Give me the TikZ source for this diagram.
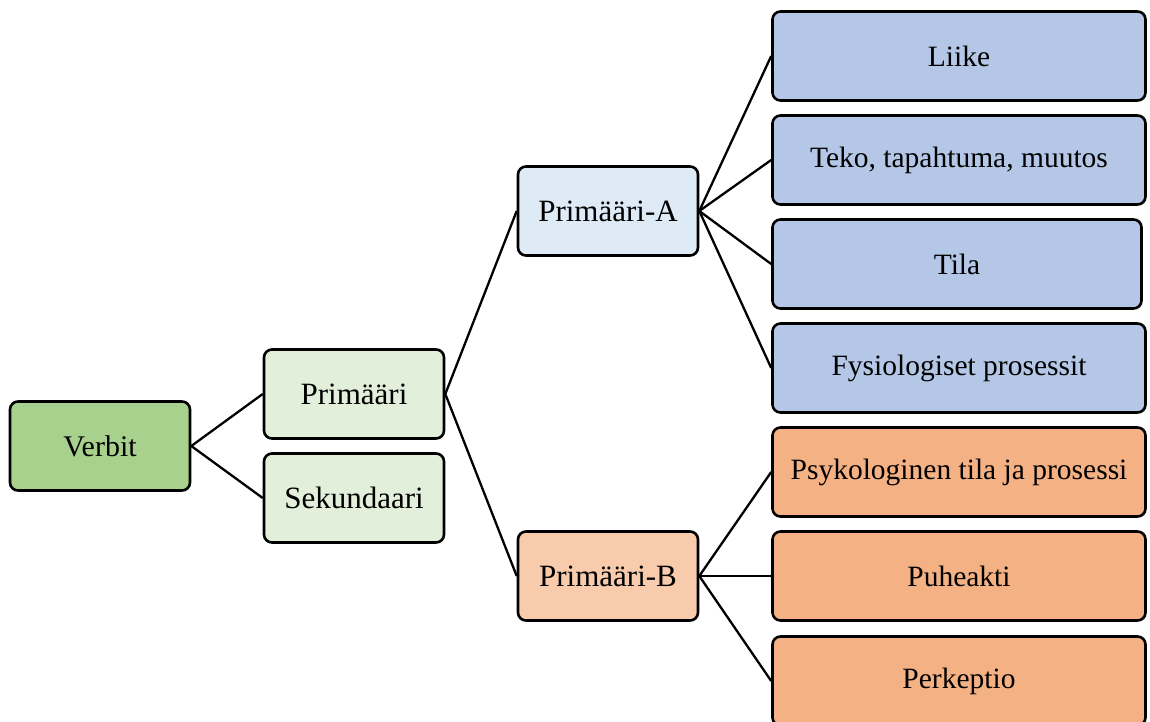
\documentclass[tikz,border=0pt]{standalone}
\usepackage{fontspec}
\setmainfont{Liberation Serif}
\usepackage{tikz}

\definecolor{verbgreen}{HTML}{A9D18E}
\definecolor{palegreen}{HTML}{E2EFDA}
\definecolor{paleblue}{HTML}{DEEBF7}
\definecolor{palepeach}{HTML}{F8CBAD}
\definecolor{midblue}{HTML}{B4C7E7}
\definecolor{midorange}{HTML}{F4B183}

\begin{document}
\begin{tikzpicture}[x=1pt, y=-1pt,
  box/.style={draw=black, line width=2.6pt, rounded corners=8pt, inner sep=0pt,
    minimum width=180pt, minimum height=89pt, font=\fontsize{31}{36}\selectfont},
  leaf/.style={box, minimum width=373pt, font=\fontsize{29.5}{34}\selectfont},
  link/.style={line width=2.3pt}]
\useasboundingbox (0,0) rectangle (1150,722);
\node[box, fill=verbgreen, font=\fontsize{30}{34}\selectfont] (verbit) at (100,446) {Verbit};
\node[box, fill=palegreen] (prim) at (354,394) {Primääri};
\node[box, fill=palegreen] (sek) at (354,498) {Sekundaari};
\node[box, fill=paleblue] (primA) at (608,211) {Primääri-A};
\node[box, fill=palepeach] (primB) at (608,576) {Primääri-B};
\node[leaf, fill=midblue] (liike) at (959,56) {Liike};
\node[leaf, fill=midblue] (teko) at (959,160) {Teko, tapahtuma, muutos};
\node[leaf, fill=midblue, minimum width=369pt] (tila) at (957,264) {Tila};
\node[leaf, fill=midblue] (fysio) at (959,368) {Fysiologiset prosessit};
\node[leaf, fill=midorange] (psyk) at (959,472) {Psykologinen tila ja prosessi};
\node[leaf, fill=midorange] (puhe) at (959,576) {Puheakti};
\node[leaf, fill=midorange] (perk) at (959,681) {Perkeptio};
\draw[link] (verbit.east) -- (prim.west);
\draw[link] (verbit.east) -- (sek.west);
\draw[link] (prim.east) -- (primA.west);
\draw[link] (prim.east) -- (primB.west);
\draw[link] (primA.east) -- (liike.west);
\draw[link] (primA.east) -- (teko.west);
\draw[link] (primA.east) -- (tila.west);
\draw[link] (primA.east) -- (fysio.west);
\draw[link] (primB.east) -- (psyk.west);
\draw[link] (primB.east) -- (puhe.west);
\draw[link] (primB.east) -- (perk.west);
\end{tikzpicture}
\end{document}
